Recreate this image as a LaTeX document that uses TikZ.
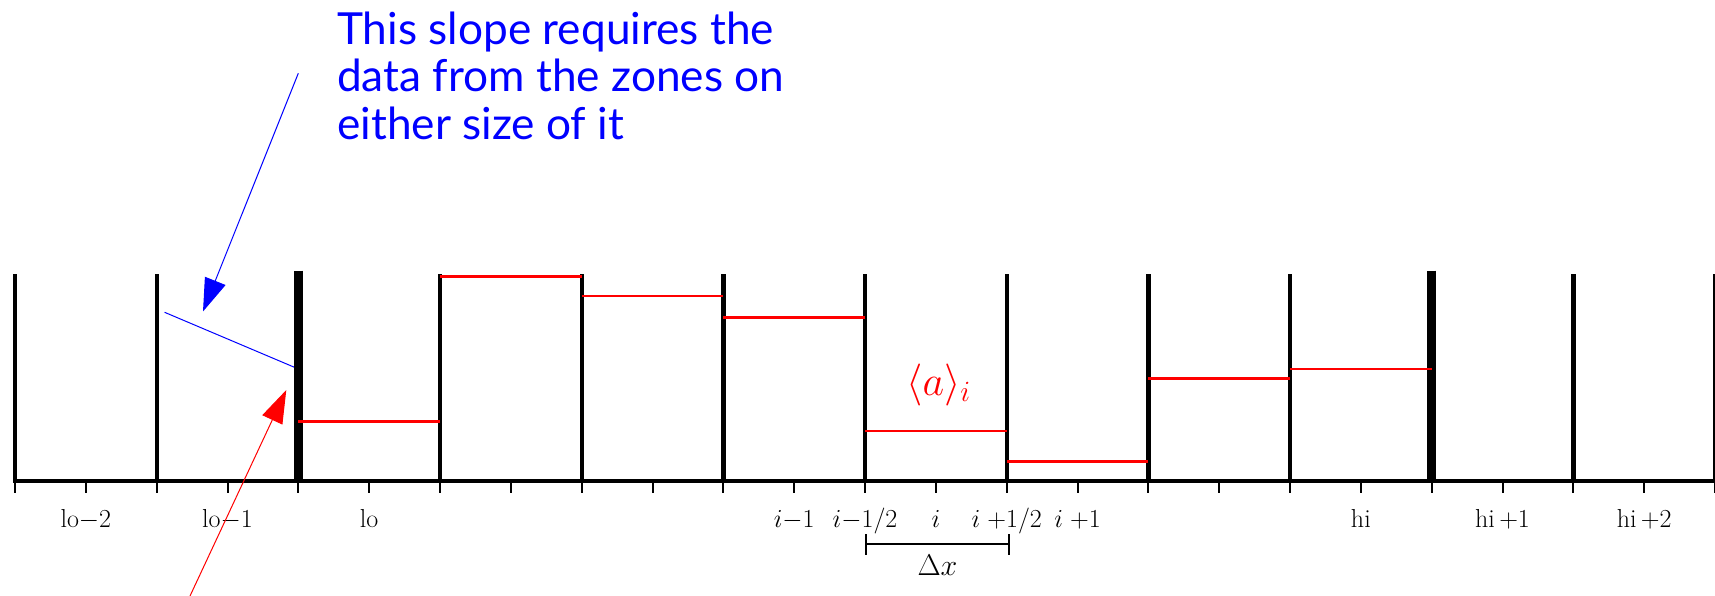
\RequirePackage{fix-cm}
\documentclass[tikz,border=0pt]{standalone}
\usepackage{fontspec}
\newfontfamily\latofont{Lato}
\usetikzlibrary{arrows.meta}
\begin{document}
\begin{tikzpicture}[x=1pt,y=-1pt,
  zoneline/.style={line width=4.3pt},
  bndline/.style={line width=9pt},
  tickline/.style={line width=2pt},
  avgline/.style={red,line width=2.5pt},
  lbl/.style={anchor=base,font=\fontsize{26}{30}\selectfont,inner sep=0pt},
  note/.style={anchor=north west,align=left,inner sep=0pt,text=blue,font=\latofont\fontsize{44.2}{47.5}\selectfont},
  bigtip/.style={-{Triangle[length=33pt,width=22pt]}},
  pointer/.style={line width=1pt,bigtip}
]
\useasboundingbox (0,0) rectangle (1715,596);
% zone boundaries
\foreach \k in {0,1,3,4,5,6,7,8,9,11,12}
  \draw[zoneline] ({15+141.67*\k},274) -- ({15+141.67*\k},481);
% blue slope (drawn under the thick boundary)
\draw[blue,line width=1pt] (164.6,312.3) -- (298,368.8);
\foreach \k in {2,10}
  \draw[bndline] ({15+141.67*\k},270.5) -- ({15+141.67*\k},481);
% axis and ticks
\draw[line width=4.3pt] (13,481) -- (1715,481);
\foreach \k in {0,...,24}
  \draw[tickline] ({15+70.835*\k},481) -- ({15+70.835*\k},493);
% cell averages
\foreach \k/\h in {2/421.7,3/276.7,4/296,5/317.3,6/431,7/461.7,8/378.7,9/369}
  \draw[avgline] ({15+141.67*\k},\h) -- ({15+141.67*(\k+1)},\h);
% labels
\foreach \p/\t [count=\n] in {0.5/{$\mathrm{lo}{-}2$},1.5/{$\mathrm{lo}{-}1$},2.5/{$\mathrm{lo}$},
   5.5/{$i{-}1$},6/{$i{-}1/2$},6.5/{$i$},7/{$i\;{+}1/2$},7.5/{$i\;{+}1$},
   9.5/{$\mathrm{hi}$},10.5/{$\mathrm{hi}\,{+}1$},11.5/{$\mathrm{hi}\,{+}2$}}
  \node[lbl] (lab\n) at ({15+141.67*\p},527) {\t};
% Delta x
\draw[line width=2pt] (866,534) -- (866,555);
\draw[line width=2pt] (1008.6,534) -- (1008.6,555);
\draw[line width=2pt] (866,544.3) -- (1008.6,544.3);
\node[lbl,font=\fontsize{30}{34}\selectfont] (dx) at (937.5,575) {$\Delta x$};
% average label
\node[anchor=base west,inner sep=0pt,text=red,font=\fontsize{42}{46}\selectfont] (avg) at (906,395) {$\langle a\rangle_i$};
% note
\node[note] (txt) at (337,11.3) {This slope requires the\\data from the zones on\\either size of it};
\coordinate (btail) at (298.3,73.3);
\coordinate (btip) at (203,311.5);
\draw[blue,pointer] (btail) -- (btip);
\coordinate (rtail) at (190,596);
\coordinate (rtip) at (286.3,390);
\draw[red,pointer] (rtail) -- (rtip);
\end{tikzpicture}
\end{document}
